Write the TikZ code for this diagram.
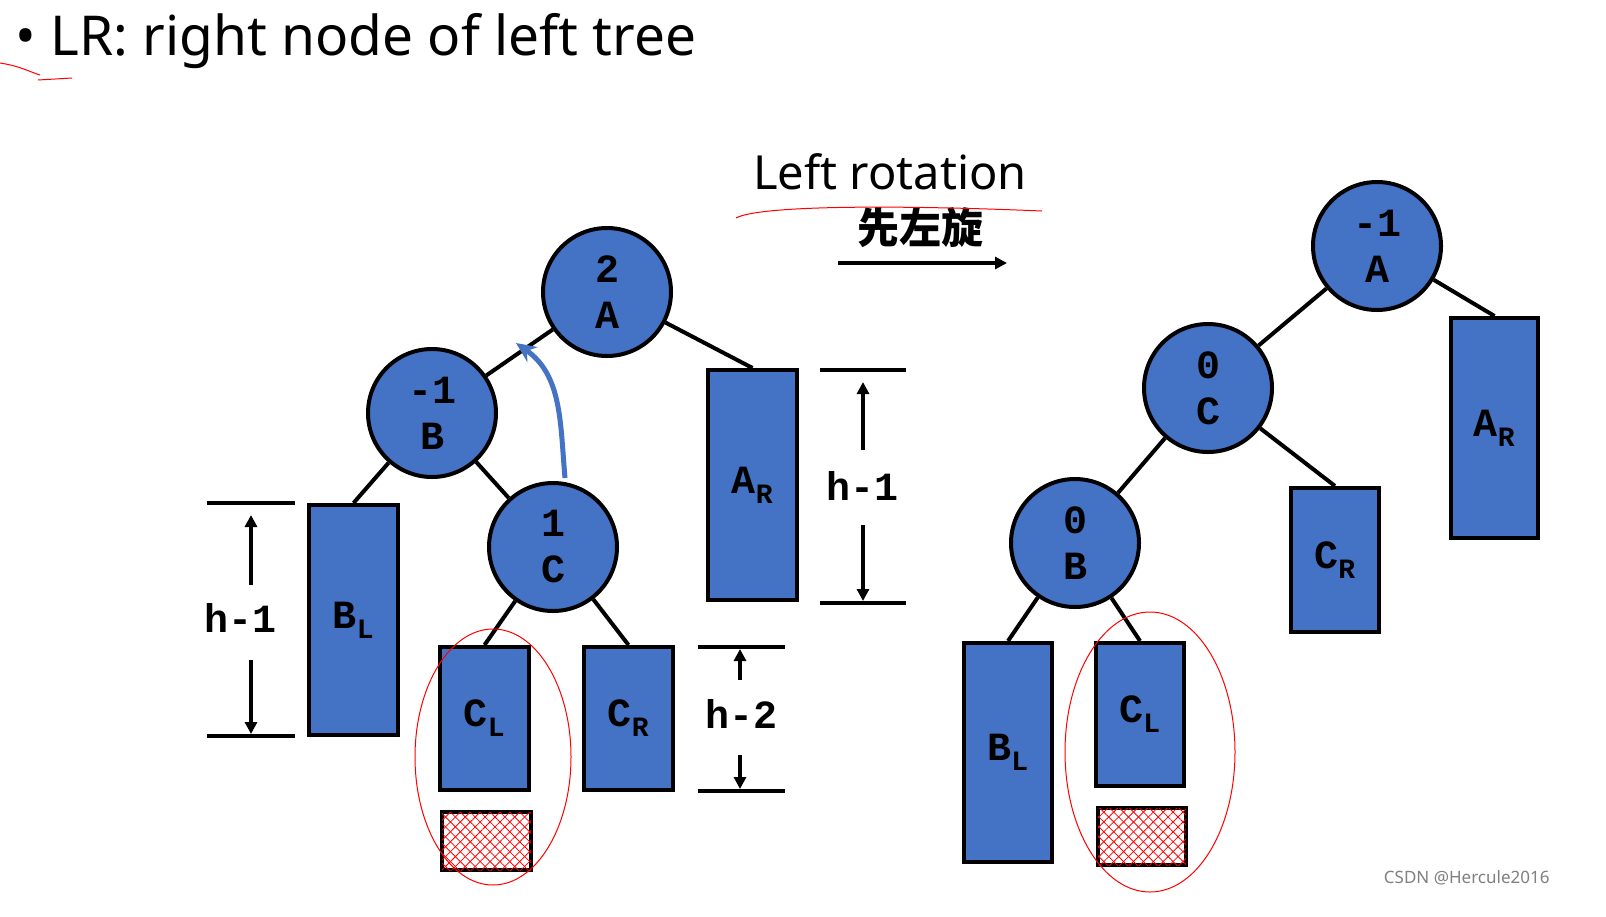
\documentclass[tikz,border=0pt]{standalone}
\usepackage{fontspec}
\setmainfont{Noto Sans}
\newfontfamily\mono{Liberation Mono}
\newfontfamily\cjk{Noto Sans CJK SC}
\usetikzlibrary{patterns.meta,arrows.meta}
\definecolor{nblue}{HTML}{4472C4}
\begin{document}
\begin{tikzpicture}[x=1pt,y=-1pt,
 nd/.style={circle,draw=black,line width=4pt,fill=nblue,minimum size=128pt,inner sep=0pt,align=center,font=\mono\bfseries\fontsize{40}{46}\selectfont},
 bx/.style={draw=black,line width=4pt,fill=nblue,font=\mono\bfseries\fontsize{40}{40}\selectfont},
 ed/.style={line width=4pt},
 ht/.style={draw=black,line width=4pt,fill=white,
   postaction={pattern={Lines[angle=45,distance=7pt,line width=0.8pt]},pattern color=red},
   postaction={pattern={Lines[angle=-45,distance=7pt,line width=0.8pt]},pattern color=red}},
 dim/.style={line width=3.5pt},
 ar/.style={line width=3.5pt,-{Triangle[length=12pt,width=12pt]}},
 lb/.style={font=\mono\bfseries\fontsize{40}{40}\selectfont},
 sc/.style={red,line width=1pt}]
\useasboundingbox (0,0) rectangle (1606,916);
\fill[white] (0,0) rectangle (1606,916);
\node[anchor=base west,font=\fontsize{55}{60}\selectfont] (title) at (12,55) {• LR: right node of left tree};
\node[font=\fontsize{47}{50}\selectfont,inner sep=0pt] (lr) at (890,172) {Left rotation};
\node[font=\cjk\bfseries\fontsize{42}{46}\selectfont,inner sep=0pt] (cn) at (920,228) {先左旋};
\coordinate (r1) at (838,263); \coordinate (r2) at (1007,263);
\draw[ar] (r1) -- (r2);
% left tree
\node[nd] (A) at (607,292) {2\\A};
\node[nd] (B) at (432,413) {-1\\B};
\node[nd] (C) at (553,547) {1\\C};
\node[bx,minimum width=89pt,minimum height=230pt] (AR) at (752.5,485) {A\textsubscript{R}};
\node[bx,minimum width=89pt,minimum height=230pt] (BL) at (353.5,620) {B\textsubscript{L}};
\node[bx,minimum width=89pt,minimum height=143pt] (CL) at (484.5,718.5) {C\textsubscript{L}};
\node[bx,minimum width=89pt,minimum height=143pt] (CR) at (628.5,718.5) {C\textsubscript{R}};
\node[ht,minimum width=89pt,minimum height=58pt] (H1) at (486.5,841) {};
\draw[ed] (A) -- (B);
\draw[ed] (A) -- (AR.north);
\draw[ed] (B) -- (BL.north);
\draw[ed] (B) -- (C);
\draw[ed] (C) -- (CL.north);
\draw[ed] (C) -- (CR.north);
\draw[nblue,line width=5pt,-{Stealth[length=20pt,width=18pt]}] (565,478) to[out=95,in=-35] (516,343);
% dims
\draw[dim] (207,503) -- (295,503); \draw[dim] (207,736) -- (295,736);
\node[lb] (h1) at (241,618) {h-1};
\draw[ar] (251,585) -- (251,515); \draw[ar] (251,660) -- (251,734);
\draw[dim] (820,370) -- (906,370); \draw[dim] (820,603) -- (906,603);
\node[lb] (h2) at (862,486) {h-1};
\draw[ar] (863,450) -- (863,382); \draw[ar] (863,525) -- (863,601);
\draw[dim] (698,647) -- (785,647); \draw[dim] (698,791) -- (785,791);
\node[lb] (h3) at (741,714) {h-2};
\draw[ar] (740,680) -- (740,649); \draw[ar] (740,755) -- (740,789);
% right tree
\node[nd] (A2) at (1377,246) {-1\\A};
\node[nd] (C2) at (1208,388) {0\\C};
\node[nd] (B2) at (1075,543) {0\\B};
\node[bx,minimum width=87pt,minimum height=220pt] (AR2) at (1494.5,428) {A\textsubscript{R}};
\node[bx,minimum width=88pt,minimum height=144pt] (CR2) at (1335,560) {C\textsubscript{R}};
\node[bx,minimum width=88pt,minimum height=219pt] (BL2) at (1008,752.5) {B\textsubscript{L}};
\node[bx,minimum width=88pt,minimum height=143pt] (CL2) at (1140,714.5) {C\textsubscript{L}};
\node[ht,minimum width=88pt,minimum height=57pt] (H2) at (1142,836.5) {};
\draw[ed] (A2) -- (C2);
\draw[ed] (A2) -- (AR2.north);
\draw[ed] (C2) -- (B2);
\draw[ed] (C2) -- (CR2.north);
\draw[ed] (B2) -- (BL2.north);
\draw[ed] (B2) -- (CL2.north);
% red annotations
\draw[sc] (493,757) ellipse [x radius=78pt,y radius=128pt];
\draw[sc] (1150,752) ellipse [x radius=85pt,y radius=140pt];
\draw[sc] (736,218) .. controls (760,205) and (900,205) .. (1042,211);
\draw[sc] (0,63) .. controls (20,66) and (30,72) .. (40,75);
\draw[sc] (38,80) -- (72,78);
\node[gray,font=\fontsize{17}{18}\selectfont,anchor=east] (wm) at (1553,878) {CSDN @Hercule2016};
\end{tikzpicture}
\end{document}
